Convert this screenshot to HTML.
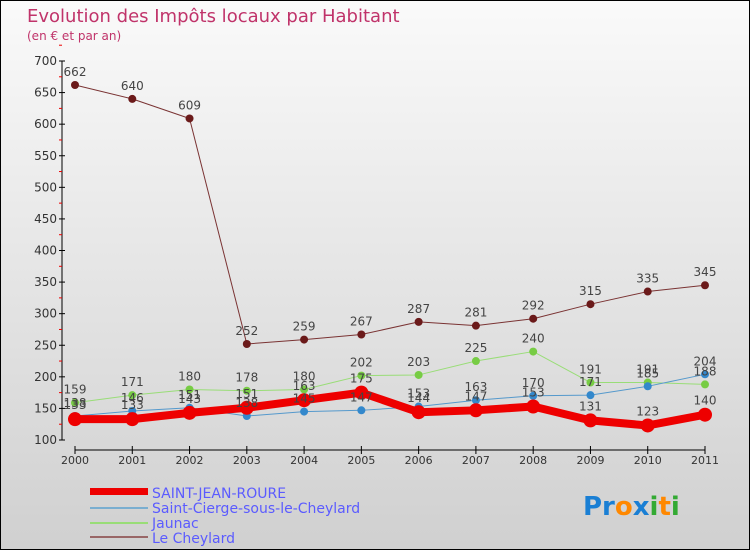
<!DOCTYPE html>
<html><head><meta charset="utf-8"><style>
body{margin:0;width:750px;height:550px;overflow:hidden;font-family:"DejaVu Sans","Liberation Sans",sans-serif}
svg text{font-family:"DejaVu Sans","Liberation Sans",sans-serif}
</style></head><body>
<svg id="c" width="750" height="550">
<defs><linearGradient id="bg" x1="0" y1="0" x2="0" y2="1"><stop offset="0" stop-color="#fafafa"/><stop offset="1" stop-color="#d0d0d0"/></linearGradient></defs>
<rect x="0.5" y="0.5" width="749" height="549" fill="url(#bg)" stroke="#000"/>
<text x="27" y="22" font-size="18" fill="#c0336a">Evolution des Impôts locaux par Habitant</text>
<text x="27" y="40" font-size="12" fill="#c0336a">(en € et par an)</text>
<g id="axes"></g><g id="series"></g><g id="labels"></g>
<g>
<rect x="90" y="488" width="58" height="7" fill="#e00"/>
<text x="152" y="498" font-size="14" fill="#5b5bff">SAINT-JEAN-ROURE</text>
<line x1="90" y1="508" x2="148" y2="508" stroke="#7aaed0" stroke-width="2"/>
<text x="152" y="513" font-size="14" fill="#5b5bff">Saint-Cierge-sous-le-Cheylard</text>
<line x1="90" y1="523" x2="148" y2="523" stroke="#99dd77" stroke-width="2"/>
<text x="152" y="528" font-size="14" fill="#5b5bff">Jaunac</text>
<line x1="90" y1="537" x2="148" y2="537" stroke="#996666" stroke-width="2"/>
<text x="152" y="543" font-size="14" fill="#5b5bff">Le Cheylard</text>
</g>
<text x="583" y="515" font-size="26" font-weight="bold"><tspan fill="#1a7fd4">Pr</tspan><tspan fill="#ff8800">o</tspan><tspan fill="#1a7fd4">x</tspan><tspan fill="#33aa33">i</tspan><tspan fill="#ff8800">t</tspan><tspan fill="#33aa33">i</tspan></text>
</svg>
<script>
const years=["2000","2001","2002","2003","2004","2005","2006","2007","2008","2009","2010","2011"];
const yTicks=[100,150,200,250,300,350,400,450,500,550,600,650,700];
const sjr=[133,133,143,151,163,175,144,147,153,131,123,140];
const scs=[138,146,151,138,145,147,153,163,170,171,185,204];
const jaunac=[159,171,180,178,180,202,203,225,240,191,191,188];
const cheylard=[662,640,609,252,259,267,287,281,292,315,335,345];
const NS="http://www.w3.org/2000/svg";
const xs=i=>75+i*(630/11);
const ys=v=>440-(v-100)*(379/600);
function mk(t,a,p){const e=document.createElementNS(NS,t);for(const k in a)e.setAttribute(k,a[k]);p.appendChild(e);return e;}
const ax=document.getElementById('axes');
let l=mk('line',{x1:62,y1:61,x2:62,y2:440,stroke:'#000'},ax);


yTicks.forEach(v=>{mk('line',{x1:59,y1:ys(v),x2:65,y2:ys(v),stroke:'#000'},ax);
mk('line',{x1:59,y1:ys(v+25),x2:62,y2:ys(v+25),stroke:'#e00'},ax);
const t=mk('text',{x:57,y:ys(v)+4,'font-size':12,'text-anchor':'end',fill:'#333'},ax);t.textContent=v;

});
l=mk('line',{x1:75,y1:450,x2:705,y2:450,stroke:'#000'},ax);


years.forEach((y,i)=>{mk('line',{x1:xs(i),y1:446,x2:xs(i),y2:454,stroke:'#000'},ax);
const t=mk('text',{x:xs(i),y:464,'font-size':11,'text-anchor':'middle',fill:'#333'},ax);t.textContent=y;

});
const sg=document.getElementById('series'),lg=document.getElementById('labels');
function series(d,name,col,dot,w,r,lblOff){
const p=mk('polyline',{points:d.map((v,i)=>xs(i)+','+ys(v)).join(' '),fill:'none',stroke:col,'stroke-width':w,'stroke-linejoin':'round'},sg);


d.forEach((v,i)=>{const c=mk('circle',{cx:xs(i),cy:ys(v),r:r,fill:dot},sg);


const t=mk('text',{x:xs(i),y:ys(v)+lblOff,'font-size':12,'text-anchor':'middle',fill:'#444'},lg);t.textContent=v;

});}
series(cheylard,'le-cheylard','#7a3333','#6b1a1a',1,4,-9);
series(jaunac,'jaunac','#99dd77','#77cc44',1,4,-9);
series(scs,'saint-cierge','#5599cc','#3388cc',1,4,-9);
series(sjr,'saint-jean-roure','#e00','#e00',8,7,-10);
</script>
</body></html>
